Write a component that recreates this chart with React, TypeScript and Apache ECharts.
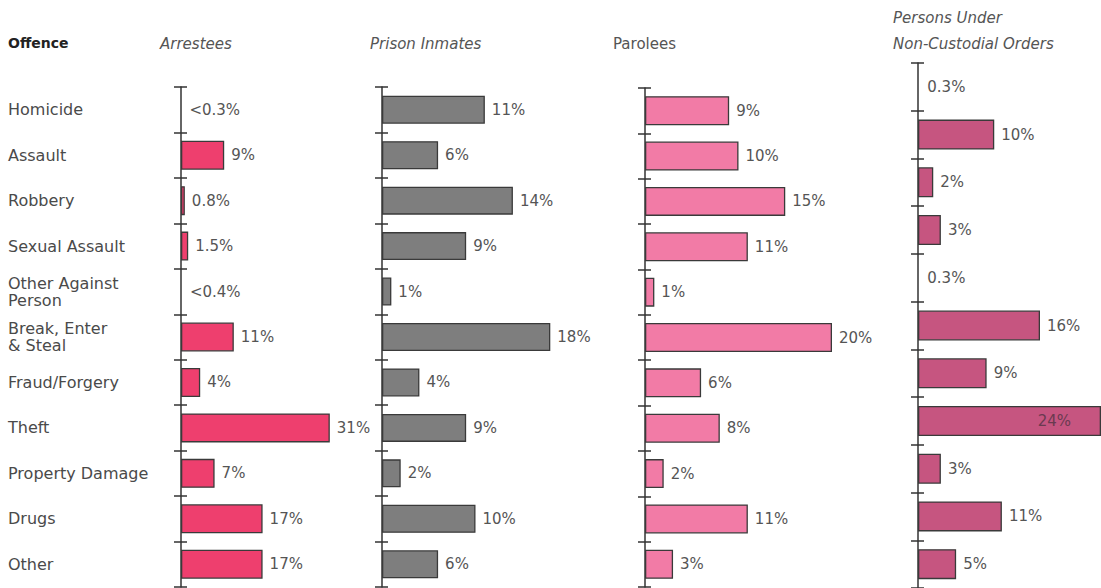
import React, { useEffect, useRef } from "react";
import * as echarts from "echarts";

const offences = [
  "Homicide",
  "Assault",
  "Robbery",
  "Sexual Assault",
  "Other Against\nPerson",
  "Break, Enter\n& Steal",
  "Fraud/Forgery",
  "Theft",
  "Property Damage",
  "Drugs",
  "Other",
];

const panelTitles = ["Arrestees", "Prison Inmates", "Parolees", "Persons Under\nNon-Custodial Orders"];

const arrestees = [0.3, 9, 0.8, 1.5, 0.4, 11, 4, 31, 7, 17, 17];
const arresteesLabels = ["<0.3%", "9%", "0.8%", "1.5%", "<0.4%", "11%", "4%", "31%", "7%", "17%", "17%"];
const prisonInmates = [11, 6, 14, 9, 1, 18, 4, 9, 2, 10, 6];
const parolees = [9, 10, 15, 11, 1, 20, 6, 8, 2, 11, 3];
const nonCustodial = [0.3, 10, 2, 3, 0.3, 16, 9, 24, 3, 11, 5];

const FONT = "DejaVu Sans";
const TEXT = "#555555";

export default function App() {
  const ref = useRef<HTMLDivElement>(null);

  useEffect(() => {
    if (!ref.current) return;
    const chart = echarts.init(ref.current, null, { renderer: "svg" });

    const panels = [
      { values: arrestees, labels: arresteesLabels, color: "#EE3F6E", left: 181, top: 87, height: 500, width: 192, max: 40, bw: 29 },
      { values: prisonInmates, labels: prisonInmates.map((v) => `${v}%`), color: "#7E7E7E", left: 382, top: 87, height: 500, width: 187, max: 20, bw: 28 },
      { values: parolees, labels: parolees.map((v) => `${v}%`), color: "#F27BA6", left: 645, top: 88, height: 499, width: 187, max: 20, bw: 29 },
      { values: nonCustodial, labels: nonCustodial.map((v) => `${v}%`), color: "#C65580", left: 918, top: 63, height: 525, width: 183, max: 24, bw: 30 },
    ];

    const grid: any[] = [];
    const xAxis: any[] = [];
    const yAxis: any[] = [];
    const series: any[] = [];

    panels.forEach((p, gi) => {
      grid.push({ left: p.left, top: p.top, width: p.width, height: p.height, containLabel: false });
      xAxis.push({ type: "value", gridIndex: gi, min: 0, max: p.max, show: false });
      // main axis: line + outward ticks (+ labels for first panel)
      yAxis.push({
        type: "category",
        gridIndex: gi,
        position: "left",
        inverse: true,
        data: offences,
        axisLine: { show: true, lineStyle: { color: "#333", width: 1.5 } },
        axisTick: { show: true, length: 7, lineStyle: { color: "#333", width: 1.5 } },
        axisLabel:
          gi === 0
            ? {
                show: true,
                align: "left",
                margin: p.left - 8,
                color: "#4a4a4a",
                fontFamily: FONT,
                fontSize: 16,
                lineHeight: 17,
              }
            : { show: false },
        splitLine: { show: false },
      });
      // second axis on the same side: inward ticks so tick marks cross the axis
      yAxis.push({
        type: "category",
        gridIndex: gi,
        position: "left",
        offset: 0,
        inverse: true,
        data: offences,
        axisLine: { show: false },
        axisTick: { show: true, inside: true, length: 6, lineStyle: { color: "#333", width: 1.5 } },
        axisLabel: { show: false },
        splitLine: { show: false },
      });
      series.push({
        type: "bar",
        xAxisIndex: gi,
        yAxisIndex: gi * 2,
        barWidth: p.bw,
        data: p.values.map((v, i) => {
          const item: any = { value: v };
          if (v < 0.5) item.itemStyle = { color: "rgba(0,0,0,0)", borderWidth: 0 };
          if (gi === 3 && v >= p.max) {
            item.label = { position: "insideRight", distance: 30, color: "#6a3a50" };
          }
          return item;
        }),
        itemStyle: { color: p.color, borderColor: "#3a3a3a", borderWidth: 1.3 },
        label: {
          show: true,
          position: "right",
          distance: 7,
          color: TEXT,
          fontFamily: FONT,
          fontSize: 15,
          formatter: (q: any) => p.labels[q.dataIndex],
        },
      });
    });

    const titleStyle = (italic: boolean) => ({
      fill: TEXT,
      font: `${italic ? "italic " : ""}15px "${FONT}"`,
    });

    chart.setOption({
      animation: false,
      backgroundColor: "#ffffff",
      grid,
      xAxis,
      yAxis,
      series,
      graphic: [
        {
          type: "text",
          left: 8,
          top: 36,
          style: { text: "Offence", fill: "#222", font: `bold 14px "${FONT}"` },
        },
        { type: "text", left: 160, top: 36, style: { ...titleStyle(true), text: panelTitles[0] } },
        { type: "text", left: 370, top: 36, style: { ...titleStyle(true), text: panelTitles[1] } },
        { type: "text", left: 613, top: 36, style: { ...titleStyle(false), text: panelTitles[2] } },
        {
          type: "text",
          left: 893,
          top: 5,
          style: { ...titleStyle(true), text: panelTitles[3], lineHeight: 26 },
        },
      ],
    });

    return () => chart.dispose();
  }, []);

  return (
    <div
      ref={ref}
      style={{ position: "fixed", left: 0, top: 0, width: 1101, height: 588, background: "#fff" }}
    />
  );
}
